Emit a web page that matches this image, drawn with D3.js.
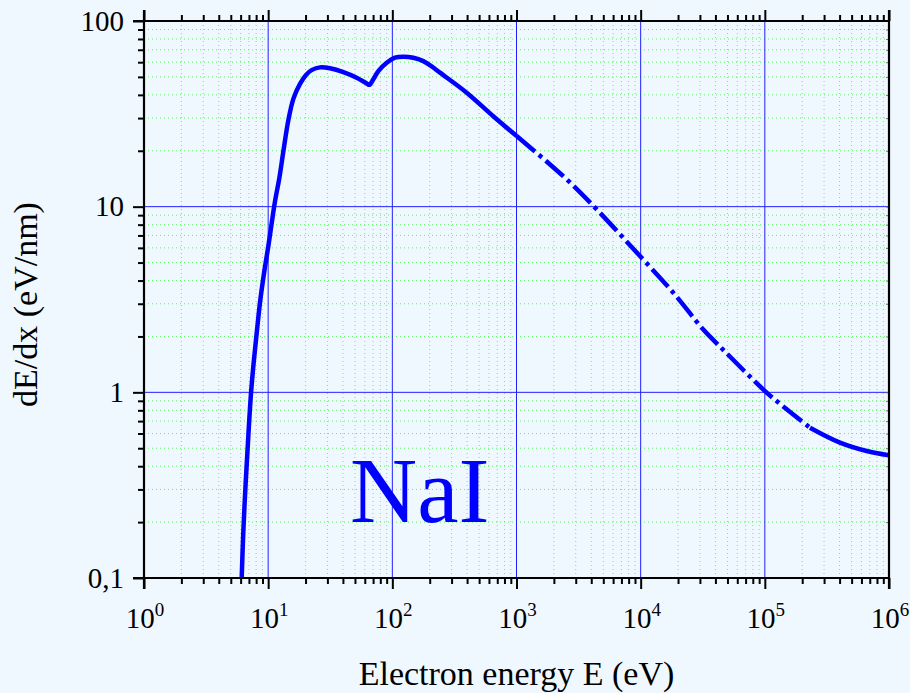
<!DOCTYPE html>
<html><head><meta charset="utf-8">
<script src="https://cdn.jsdelivr.net/npm/d3@7"></script>
<style>
html,body{margin:0;padding:0;background:#f0f8ff;}
svg{display:block;}
text{font-family:"Liberation Serif","Times New Roman",serif;}
</style></head><body>
<svg id="c" width="910" height="693"></svg>
<script>
// ---- data ----
const energy = [6.12, 6.305, 6.593, 6.918, 7.273, 7.689, 8.129, 8.596, 9.257, 10.024, 11.35, 12.29, 13.29, 14.58, 16.0, 18.05, 20.17, 22.54, 26.15, 31.5, 40.3, 51.6, 62.2, 65.3, 70.3, 77.1, 90.1, 105, 122.5, 147.5, 177.6, 204.8, 242, 397, 650, 1003, 1750, 2697, 4424, 9874, 18310, 31940, 46030, 100300, 150000, 231000, 403000, 661000, 1000000];
const dEdx   = [0.1, 0.1762, 0.3277, 0.5795, 0.9877, 1.506, 2.157, 3.052, 4.374, 6.113, 10.69, 14.21, 20.10, 29.52, 38.30, 45.84, 51.25, 54.54, 56.26, 55.6, 53.1, 49.5, 46.1, 45.3, 48.5, 53.7, 59.6, 63.4, 64.2, 63.4, 60.8, 57.3, 52.7, 41.1, 30.7, 24.0, 17.5, 13.5, 9.67, 5.42, 3.44, 2.18, 1.70, 1.016, 0.810, 0.645, 0.536, 0.483, 0.458];
const dashStartEnergy = 1003;     // dash-dot section begins
const dashEndEnergy = 231000;     // dash-dot section ends
const xTickExponents = [0, 1, 2, 3, 4, 5, 6];
const yTickValues = [0.1, 1, 10, 100];
const yTickLabels = ["0,1", "1", "10", "100"];
const xTitle = "Electron energy E (eV)";
const yTitle = "dE/dx (eV/nm)";
const annotation = "NaI";

// ---- layout ----
const FONT = '"Liberation Serif","Times New Roman",serif';
const svg = d3.select("#c");
const L = 144, R = 889, T = 21, B = 578;
const x = d3.scaleLog().domain([1, 1e6]).range([L, R]);
const y = d3.scaleLog().domain([0.1, 100]).range([B, T]);

const xMajor = xTickExponents.map(e => Math.pow(10, e));
const xMinor = [];
for (let e = 0; e < 6; e++) for (let k = 2; k <= 9; k++) xMinor.push(k * Math.pow(10, e));
const yMinor = [];
for (let e = -1; e < 2; e++) for (let k = 2; k <= 9; k++) yMinor.push(+(k * Math.pow(10, e)).toPrecision(3));

svg.append("rect").attr("width", 910).attr("height", 693).attr("fill", "#f0f8ff");

// minor grid (green dotted)
const gMinor = svg.append("g");
gMinor.selectAll("line.vx").data(xMinor).join("line")
  .attr("x1", d => x(d)).attr("x2", d => x(d)).attr("y1", T).attr("y2", B);
gMinor.selectAll("line.hy").data(yMinor).join("line")
  .attr("y1", d => y(d)).attr("y2", d => y(d)).attr("x1", L).attr("x2", R);
gMinor.selectAll("line").attr("stroke", "#5cf55c").attr("stroke-width", 1).attr("stroke-dasharray", "1,3");

// major grid (blue)
const gMajor = svg.append("g");
gMajor.selectAll("line.vx").data(xMajor.slice(1, -1)).join("line")
  .attr("x1", d => x(d)).attr("x2", d => x(d)).attr("y1", T).attr("y2", B);
gMajor.selectAll("line.hy").data(yTickValues.slice(1, -1)).join("line")
  .attr("y1", d => y(d)).attr("y2", d => y(d)).attr("x1", L).attr("x2", R);
gMajor.selectAll("line").attr("stroke", "#2020ff").attr("stroke-width", 1);

// annotation
svg.append("text").attr("x", 350).attr("y", 522).attr("font-size", 93)
  .attr("font-family", FONT).attr("fill", "#0000ff").text(annotation);

// curve
svg.append("clipPath").attr("id", "clip").append("rect")
  .attr("x", L).attr("y", T).attr("width", R - L).attr("height", B - T);
const pts = energy.map((e, i) => ({e, v: dEdx[i]}));
const line = d3.line().x(d => x(d.e)).y(d => y(d.v)).curve(d3.curveCatmullRom.alpha(0.5));
const segs = [
  {data: pts.filter(d => d.e <= dashStartEnergy), dash: null},
  {data: pts.filter(d => d.e >= dashStartEnergy && d.e <= dashEndEnergy), dash: "24,5,4,5"},
  {data: pts.filter(d => d.e >= dashEndEnergy), dash: null}
];
const gc = svg.append("g").attr("clip-path", "url(#clip)");
segs.forEach(s => {
  gc.append("path").attr("d", line(s.data)).attr("fill", "none")
    .attr("stroke", "#0000ff").attr("stroke-width", 4.5)
    .attr("stroke-dasharray", s.dash).attr("stroke-linejoin", "round");
});

// axes
function styleAxis(g, w) {
  g.select(".domain").remove();
  g.selectAll(".tick line").attr("stroke", "#000").attr("stroke-width", w);
}
// bottom
svg.append("g").attr("transform", `translate(0,${B})`)
  .call(d3.axisBottom(x).tickValues(xMajor).tickSize(11).tickFormat(""))
  .call(g => styleAxis(g, 2));
svg.append("g").attr("transform", `translate(0,${B})`)
  .call(d3.axisBottom(x).tickValues(xMinor).tickSize(6).tickFormat(""))
  .call(g => styleAxis(g, 2));
// top
svg.append("g").attr("transform", `translate(0,${T})`)
  .call(d3.axisTop(x).tickValues(xMajor).tickSize(11).tickFormat(""))
  .call(g => styleAxis(g, 2));
svg.append("g").attr("transform", `translate(0,${T})`)
  .call(d3.axisTop(x).tickValues(xMinor).tickSize(6).tickFormat(""))
  .call(g => styleAxis(g, 2));
// left
svg.append("g").attr("transform", `translate(${L},0)`)
  .call(d3.axisLeft(y).tickValues(yTickValues).tickSize(11).tickPadding(9)
    .tickFormat((d, i) => yTickLabels[i]))
  .call(g => styleAxis(g, 2))
  .call(g => g.attr("font-family", FONT))
  .call(g => g.selectAll("text").attr("font-size", 29).attr("fill", "#000")
    .attr("font-family", FONT));
svg.append("g").attr("transform", `translate(${L},0)`)
  .call(d3.axisLeft(y).tickValues(yMinor).tickSize(6).tickFormat(""))
  .call(g => styleAxis(g, 2));
// right (small inward ticks)
svg.append("g").attr("transform", `translate(${R},0)`)
  .call(d3.axisLeft(y).tickValues(yMinor.concat(yTickValues)).tickSize(3).tickFormat(""))
  .call(g => styleAxis(g, 1))
  .call(g => g.selectAll(".tick line").attr("stroke", "#777"));

// frame lines
const frame = svg.append("g").attr("stroke", "#000").attr("stroke-width", 2.2);
frame.append("line").attr("x1", L).attr("x2", L).attr("y1", T - 11).attr("y2", B + 11);
frame.append("line").attr("x1", R).attr("x2", R).attr("y1", T - 11).attr("y2", B + 11);
frame.append("line").attr("x1", L - 11).attr("x2", R).attr("y1", T).attr("y2", T);
frame.append("line").attr("x1", L - 11).attr("x2", R).attr("y1", B).attr("y2", B);

// x tick labels with superscripts
const xl = svg.append("g").attr("font-size", 29).attr("fill", "#000").attr("font-family", FONT);
xTickExponents.forEach(e => {
  const t = xl.append("text").attr("x", x(Math.pow(10, e)) + 1).attr("y", 628)
    .attr("text-anchor", "middle");
  t.append("tspan").text("10");
  t.append("tspan").attr("dy", -12).attr("font-size", 19).text(String(e));
});

// titles
svg.append("text").attr("x", (L + R) / 2).attr("y", 685).attr("text-anchor", "middle")
  .attr("font-family", FONT).attr("font-size", 34).attr("fill", "#000").text(xTitle);
svg.append("text").attr("transform", `translate(37,${(T + B) / 2 + 5}) rotate(-90)`)
  .attr("font-family", FONT).attr("text-anchor", "middle").attr("font-size", 34)
  .attr("fill", "#000").text(yTitle);
</script>
</body></html>
